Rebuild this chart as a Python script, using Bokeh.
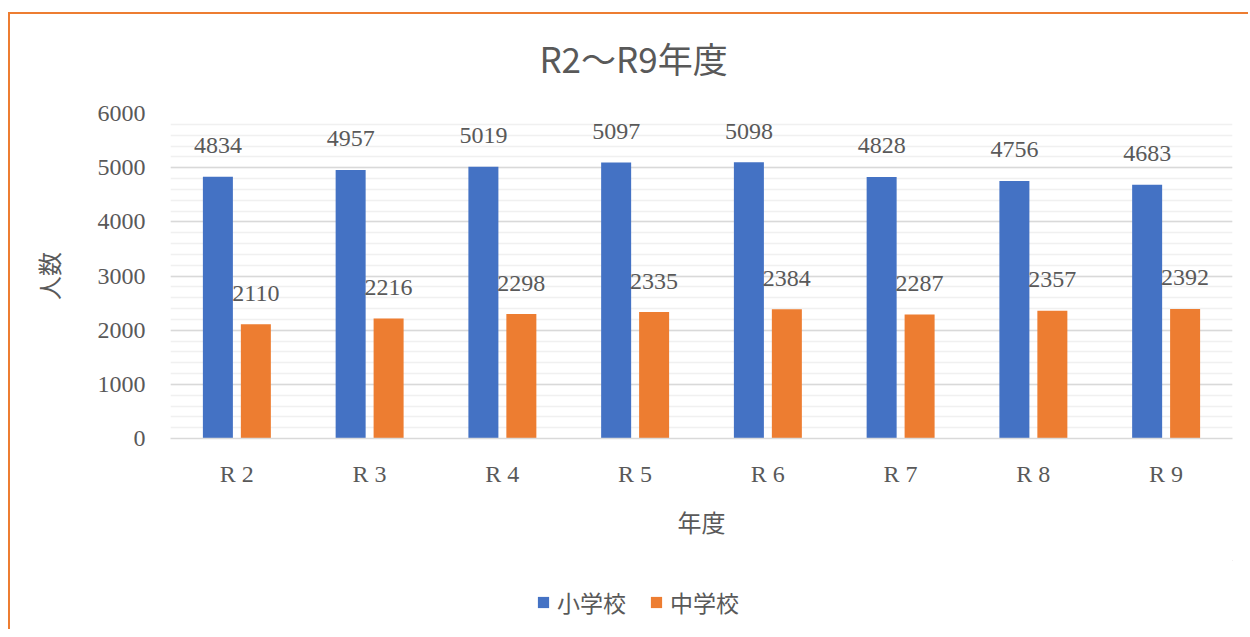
from bokeh.plotting import figure
from bokeh.layouts import column
from bokeh.models import (ColumnDataSource, FactorRange, SingleIntervalTicker, LabelSet, Label,
                          Legend, LegendItem, Range1d)
from bokeh.transform import dodge
from bokeh.embed import file_html
from bokeh.resources import INLINE

categories = ["R 2", "R 3", "R 4", "R 5", "R 6", "R 7", "R 8", "R 9"]
elementary = [4834, 4957, 5019, 5097, 5098, 4828, 4756, 4683]
junior = [2110, 2216, 2298, 2335, 2384, 2287, 2357, 2392]
series_names = ["小学校", "中学校"]
colors = ["#4472C4", "#ED7D31"]
title_text = "R2～R9年度"

src = ColumnDataSource(dict(cat=categories, e=elementary, j=junior,
                            el=[str(v) for v in elementary], jl=[str(v) for v in junior]))

TXT = "#595959"
SERIF = "Liberation Serif"
CJK = "Noto Sans CJK JP"
W = 1238


def blank_fig(h):
    f = figure(x_range=Range1d(0, 1), y_range=Range1d(0, 1), width=W, height=h,
               output_backend="svg", toolbar_location=None, min_border=0)
    f.axis.visible = False
    f.grid.visible = False
    f.outline_line_color = None
    f.border_fill_color = "white"
    f.background_fill_color = "white"
    return f


# title strip
t = blank_fig(70)
t.add_layout(Label(x=0.436, y=0.386, text=title_text, text_align="center", text_baseline="middle",
                   text_font=CJK, text_font_size="35px", text_color=TXT))

# main chart
p = figure(x_range=FactorRange(*categories), y_range=Range1d(0, 6000),
           width=W, height=476, output_backend="svg", toolbar_location=None,
           min_border_left=160, min_border_right=16, min_border_top=29, min_border_bottom=122)
p.outline_line_color = None
p.background_fill_color = "white"
p.border_fill_color = "white"

off = 0.143
bw = 0.226
r1 = p.vbar(x=dodge("cat", -off, range=p.x_range), top="e", width=bw, source=src,
            fill_color=colors[0], line_color=None)
r2 = p.vbar(x=dodge("cat", off, range=p.x_range), top="j", width=bw, source=src,
            fill_color=colors[1], line_color=None)

for col, lab, o in (("e", "el", -off), ("j", "jl", off)):
    ls = LabelSet(x=dodge("cat", o, range=p.x_range), y=col, text=lab, source=src,
                  y_offset=31, text_align="center", text_baseline="middle",
                  text_font=SERIF, text_font_size="24px", text_color=TXT)
    p.add_layout(ls)

# y axis
yax = p.yaxis[0]
yax.ticker = SingleIntervalTicker(interval=1000, num_minor_ticks=5)
yax.axis_line_color = None
yax.major_tick_line_color = None
yax.minor_tick_line_color = None
yax.major_tick_out = 0
yax.major_label_standoff = 21
yax.major_label_text_font = SERIF
yax.major_label_text_font_size = "24px"
yax.major_label_text_color = TXT
yax.axis_label = "人数"
yax.axis_label_text_font = CJK
yax.axis_label_text_font_size = "24px"
yax.axis_label_text_font_style = "normal"
yax.axis_label_text_color = TXT
yax.axis_label_standoff = 29

# x axis
xax = p.xaxis[0]
xax.axis_line_color = "#d9d9d9"
xax.axis_line_width = 1.5
xax.major_tick_line_color = None
xax.minor_tick_line_color = None
xax.major_tick_out = 0
xax.major_label_standoff = 22
xax.major_label_text_font = SERIF
xax.major_label_text_font_size = "24px"
xax.major_label_text_color = TXT
xax.axis_label = "年度"
xax.axis_label_text_font = CJK
xax.axis_label_text_font_size = "24px"
xax.axis_label_text_font_style = "normal"
xax.axis_label_text_color = TXT
xax.axis_label_standoff = 14

p.xgrid.grid_line_color = None
p.ygrid.grid_line_color = "#d9d9d9"
p.ygrid.grid_line_width = 1.5
p.ygrid.minor_grid_line_color = "#f0f0f0"
p.ygrid.minor_grid_line_width = 1.5

# legend strip (hidden proxy glyphs, outside the visible range)
q = blank_fig(69)
lr = [q.vbar(x=[5], top=[5], bottom=[4], width=0.1, fill_color=c, line_color=None) for c in colors]
legend = Legend(items=[LegendItem(label=n, renderers=[r]) for n, r in zip(series_names, lr)],
                orientation="horizontal", location=(366, 10),
                glyph_width=14, glyph_height=14, label_standoff=7, spacing=23,
                padding=0, margin=0, border_line_color=None, background_fill_alpha=0,
                label_text_font=CJK, label_text_font_size="23px", label_text_color=TXT)
q.add_layout(legend, "center")

layout = column(t, p, q, spacing=0,
                styles={"border-left": "2px solid #ED7D31", "border-top": "2px solid #ED7D31",
                        "margin-top": "12px", "margin-left": "8px"})

open("out.html", "w").write(file_html(layout, INLINE))
